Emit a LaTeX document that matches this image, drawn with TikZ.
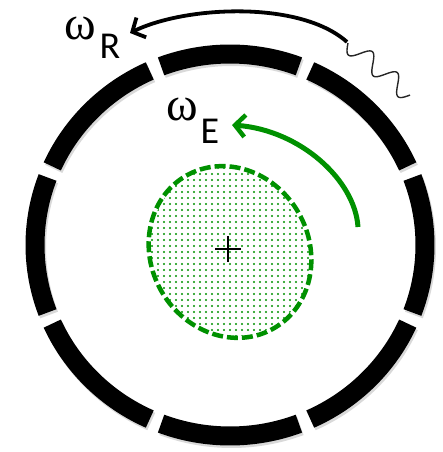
\documentclass[tikz,border=0pt]{standalone}
\usepackage{fontspec}
\setmainfont{Carlito}
\newfontfamily\wfont{Liberation Serif}
\usetikzlibrary{arrows.meta,calc}
\definecolor{egreen}{RGB}{0,145,0}
\begin{document}
\begin{tikzpicture}[x=1pt,y=1pt,
  ringseg/.style={line width=19pt, black},
  ringshadow/.style={line width=19pt, black!15},
  blob/.style={draw=egreen, line width=4.5pt, dash pattern=on 11pt off 4pt},
  blobdot/.style={fill=egreen},
  crossline/.style={line width=2.8pt, black},
  redarrow/.style={line width=3.8pt, black, -{Straight Barb[length=10pt,width=22pt,line width=3.8pt]}},
  greenarrow/.style={line width=5pt, egreen, -{Straight Barb[length=10pt,width=22pt,line width=4.5pt]}},
  wave/.style={line width=1.4pt, black!85},
  omega/.style={font=\wfont\fontsize{48}{48}\selectfont, inner sep=0pt},
  subs/.style={font=\fontsize{38}{38}\selectfont, inner sep=0pt}]
\useasboundingbox (0,0) rectangle (443,452);
\coordinate (c) at (230,207);
% ring shadow
\foreach \k in {0,...,7}{
  \pgfmathsetmacro\sa{22.5+45*\k+1.8}
  \pgfmathsetmacro\ea{67.5+45*\k-1.8}
  \draw[ringshadow] ($(c)+(1.5,-2.5)+(\sa:195 and 191)$) arc[start angle=\sa,end angle=\ea,x radius=195,y radius=191];
}
% ring segments
\foreach \k in {0,...,7}{
  \pgfmathsetmacro\sa{22.5+45*\k+1.8}
  \pgfmathsetmacro\ea{67.5+45*\k-1.8}
  \draw[ringseg] ($(c)+(\sa:195 and 191)$) arc[start angle=\sa,end angle=\ea,x radius=195,y radius=191];
}
% green blob: dots
\coordinate (e) at (230,200);
\begin{scope}
\clip[rotate around={30:(e)}] (e) ellipse[x radius=77, y radius=86];
\foreach \i in {-15,...,15}{
  \foreach \j in {-16,...,16}{
    \fill[blobdot] ($(e)+(6*\i,6*\j)$) circle[radius=1.1];
  }
}
\end{scope}
\draw[blob, rotate around={30:(e)}] (e) ellipse[x radius=79, y radius=88];
% cross
\coordinate (x) at (228,203);
\draw[crossline] ($(x)+(0,-13)$) -- ($(x)+(0,13)$);
\draw[crossline] ($(x)+(-13,0)$) -- ($(x)+(13,0)$);
% green arrow
\coordinate (gs) at (358,225);
\coordinate (ge) at (232,327);
\draw[greenarrow] (gs) .. controls (355,272) and (300,322) .. (ge);
% black arrow
\coordinate (bs) at (347,410);
\coordinate (be) at (130,419);
\draw[redarrow] (bs) .. controls (300,452) and (185,446) .. (be);
% wave
\begin{scope}[shift={(348,409)}, rotate=-40]
\draw[wave] plot[domain=0:81, samples=90, smooth] (\x,{-9*sin(\x/81*2.5*360)});
\end{scope}
% labels
\node[omega] (wR) at (80,424) {ω};
\node[subs] (R) at (110,406) {R};
\node[omega] (wE) at (182,343) {ω};
\node[subs] (E) at (210,321) {E};
\end{tikzpicture}
\end{document}
